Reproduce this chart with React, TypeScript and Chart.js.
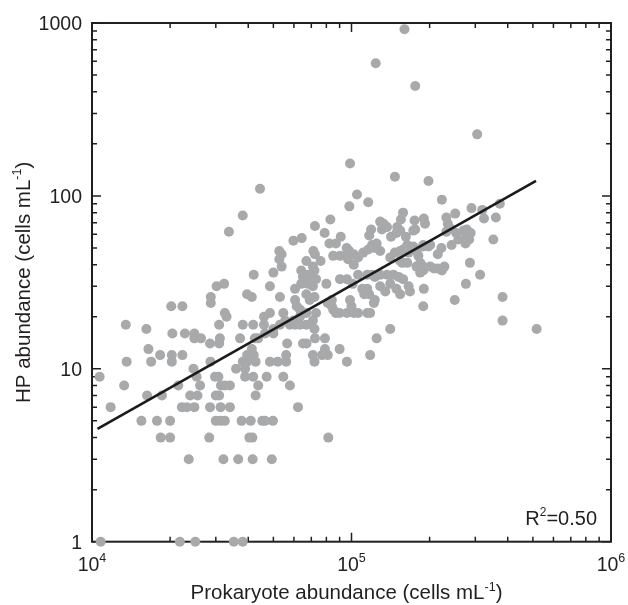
import React, { useEffect, useRef } from 'react';
import { Chart, registerables } from 'chart.js';

Chart.register(...registerables);

// [prokaryote abundance (cells mL-1), HP abundance (cells mL-1)]
const lowSamples: Array<[number, number]> = [
  [10800, 1], [21800, 1], [25000, 1], [35200, 1], [38100, 1],
  [23600, 3], [32100, 3], [36600, 3], [41600, 3], [49300, 3],
  [18400, 4], [20000, 4], [28300, 4], [40400, 4], [41500, 4], [81400, 4],
  [15500, 5], [17800, 5], [20000, 5], [30000, 5], [31300, 5], [32500, 5], [37700, 5], [40900, 5], [45300, 5], [46400, 5], [49800, 5],
  [11800, 6], [22200, 6], [23200, 6], [24800, 6], [28500, 6], [31300, 6], [34000, 6], [62200, 6],
  [16300, 7], [18600, 7], [23900, 7], [25500, 7], [30000, 7], [30900, 7], [42700, 7],
  [13300, 8], [21500, 8], [26100, 8], [31400, 8], [32500, 8], [34000, 8], [43700, 8], [57900, 8],
  [10700, 9], [25300, 9], [29800, 9], [30700, 9], [38900, 9], [41800, 9], [47100, 9], [54600, 9],
  [24600, 10], [35900, 10], [38900, 10],
];

const midSamples: Array<[number, number]> = [
  [13600, 11], [16900, 11], [20300, 11], [28600, 11], [38100, 11], [39600, 11], [42700, 11], [48500, 11], [52000, 11], [56000, 11], [72000, 11], [96000, 11],
  [18300, 12], [20300, 12], [22300, 12], [39600, 12], [42000, 12], [56000, 12], [71000, 12], [77000, 12], [81000, 12], [118000, 12],
  [16500, 13], [41300, 13], [79000, 13], [90000, 13],
  [28500, 14], [30900, 14], [56500, 14], [65000, 14], [67100, 14],
  [24800, 15], [26300, 15], [31100, 15], [37200, 15], [42400, 15], [43700, 15], [72300, 15], [79000, 15], [125000, 15],
  [20400, 16], [22800, 16], [24800, 16], [46400, 16], [50000, 16],
  [16200, 17], [50000, 17], [72000, 17], [141000, 17], [517000, 17],
  [13500, 18], [30900, 18], [38100, 18], [41800, 18], [46000, 18], [53000, 18], [57900, 18], [60600, 18], [63300, 18], [67000, 18],
  [55500, 19], [59700, 19], [71000, 19], [382000, 19],
  [33000, 20], [46000, 20], [63300, 20],
  [32500, 21], [48500, 21], [54600, 21], [64000, 21], [67000, 21], [73000, 21], [87000, 21], [90000, 21], [96000, 21], [102000, 21], [106000, 21], [115000, 21], [118000, 21],
  [63300, 22], [85000, 22],
  [20200, 23], [22300, 23], [61500, 23], [84000, 23], [100000, 23], [189000, 23],
  [28700, 24], [81000, 24], [122000, 24],
  [60600, 25], [69000, 25], [84000, 25], [98700, 25], [123000, 25], [250000, 25],
  [28700, 26], [41300, 26], [53000, 26], [72000, 26], [382000, 26],
  [39600, 27], [67000, 27], [112000, 27], [117000, 27], [154000, 27],
  [135000, 28], [168000, 28],
  [60600, 29], [110000, 29], [115000, 29], [149000, 29], [190000, 29],
  [30200, 30], [48500, 30], [71000, 30], [129000, 30], [141000, 31], [166000, 30],
  [32300, 31], [64000, 31], [68000, 31], [80000, 31], [101000, 31], [276000, 31],
];

const upperSamples: Array<[number, number]> = [
  [65000, 34], [69000, 34], [73000, 33], [90300, 33], [96000, 33],
  [42000, 35], [68000, 35], [106000, 35], [115000, 35], [120000, 35], [123000, 34], [129000, 35], [137000, 35], [145000, 35], [152000, 34], [158000, 33], [313000, 35],
  [50000, 36], [64000, 37], [72000, 37], [184000, 36], [189000, 37], [223000, 37],
  [53800, 39], [71000, 39], [178000, 39], [189000, 39], [201000, 39], [208000, 38], [215000, 38], [228000, 39], [102000, 40],
  [52700, 43], [67000, 42], [76000, 42], [97000, 43], [106000, 44], [154000, 42], [157000, 41], [164000, 41], [184000, 41], [286000, 41], [141000, 44],
  [53800, 46], [52700, 48], [71300, 48], [72300, 46], [85000, 45], [90300, 45], [96000, 46], [102000, 46], [95800, 50], [98000, 48],
  [111000, 47], [116000, 49], [123000, 50], [129000, 48], [147000, 47], [154000, 48], [158000, 49], [166000, 47], [173000, 51],
  [178000, 48], [181000, 45], [215000, 46], [222000, 50], [189000, 51], [198000, 51],
  [59700, 55], [64300, 57], [82200, 53], [87100, 53], [90900, 58], [117000, 59], [120000, 52], [125000, 53], [142000, 58], [162000, 58],
  [164000, 52], [189000, 52], [201000, 52], [243000, 52], [258000, 56], [276000, 57], [284000, 56], [352000, 56], [275000, 53],
];

const highSamples: Array<[number, number]> = [
  [33700, 62], [78800, 61], [72300, 67], [119000, 64], [131000, 64], [129000, 71], [133000, 69], [137000, 66], [149000, 61], [150000, 66],
  [154000, 63], [173000, 63], [176000, 64], [192000, 69], [232000, 62], [235000, 69], [240000, 65], [253000, 61], [278000, 64], [288000, 61], [270000, 63],
  [38100, 77], [82900, 73], [155000, 73], [158000, 80], [175000, 72], [190000, 74], [232000, 75], [98100, 87], [116000, 92], [105000, 102],
  [223000, 95], [251000, 79], [290000, 85], [319000, 83], [373000, 90], [324000, 74], [360000, 75],
  [44400, 110], [98700, 154], [147000, 129], [198000, 122], [305000, 227], [124000, 585], [176000, 432], [160000, 920],
];

// regression line end points
const fitX = [10500, 514000];
const fitY = [4.49, 122];

const xTickValues = [1e4, 1e5, 1e6];
const xTickBase = '10';
const xTickExponents = ['4', '5', '6'];
const yTickValues = [1, 10, 100, 1000];
const yTickLabels = ['1', '10', '100', '1000'];
const xAxisTitle = 'Prokaryote abundance (cells mL';
const yAxisTitle = 'HP abundance (cells mL';
const unitExponent = '-1';
const r2Parts = ['R', '2', '=0.50'];

const FONT = '"Liberation Sans", Arial, Helvetica, sans-serif';
const AXIS = '#231f20';
const DOT = '#a8a9ab';

type Part = { t: string; sup?: boolean };

function drawRich(
  ctx: CanvasRenderingContext2D,
  parts: Part[],
  x: number,
  y: number,
  align: 'left' | 'center' | 'right',
  baseSize: number,
  supSize: number,
  rise: number
) {
  const widths = parts.map((p) => {
    ctx.font = `${p.sup ? supSize : baseSize}px ${FONT}`;
    return ctx.measureText(p.t).width;
  });
  const total = widths.reduce((a, b) => a + b, 0);
  let cx = align === 'center' ? x - total / 2 : align === 'right' ? x - total : x;
  ctx.textAlign = 'left';
  ctx.textBaseline = 'alphabetic';
  parts.forEach((p, i) => {
    ctx.font = `${p.sup ? supSize : baseSize}px ${FONT}`;
    ctx.fillText(p.t, cx, p.sup ? y - rise : y);
    cx += widths[i];
  });
}

const framePlugin = {
  id: 'frame',
  beforeDatasetsDraw(chart: any) {
    const { ctx, chartArea: a, scales } = chart;
    const xs = scales.x;
    const ys = scales.y;
    ctx.save();
    ctx.strokeStyle = AXIS;
    ctx.lineWidth = 2;
    ctx.strokeRect(a.left, a.top, a.right - a.left, a.bottom - a.top);
    ctx.lineWidth = 1.5;
    const major = 9;
    const minor = 5;
    for (let d = 0; d < xTickValues.length; d++) {
      for (let m = 1; m <= 9; m++) {
        const v = xTickValues[d] * m;
        if (v > xTickValues[xTickValues.length - 1]) break;
        const px = xs.getPixelForValue(v);
        const len = m === 1 ? major : minor;
        ctx.beginPath();
        ctx.moveTo(px, a.bottom);
        ctx.lineTo(px, a.bottom - len);
        ctx.moveTo(px, a.top);
        ctx.lineTo(px, a.top + len);
        ctx.stroke();
      }
    }
    for (let d = 0; d < yTickValues.length; d++) {
      for (let m = 1; m <= 9; m++) {
        const v = yTickValues[d] * m;
        if (v > yTickValues[yTickValues.length - 1]) break;
        const py = ys.getPixelForValue(v);
        const len = m === 1 ? major : minor;
        ctx.beginPath();
        ctx.moveTo(a.left, py);
        ctx.lineTo(a.left + len, py);
        ctx.moveTo(a.right, py);
        ctx.lineTo(a.right - len, py);
        ctx.stroke();
      }
    }
    ctx.restore();
  },
  afterDraw(chart: any) {
    const { ctx, chartArea: a, scales } = chart;
    const xs = scales.x;
    const ys = scales.y;
    ctx.save();
    ctx.fillStyle = '#231f20';
    ctx.font = `19.5px ${FONT}`;
    ctx.textAlign = 'right';
    ctx.textBaseline = 'alphabetic';
    yTickValues.forEach((v, i) => {
      const py = ys.getPixelForValue(v);
      ctx.fillText(yTickLabels[i], a.left - 10, py + 7);
    });
    xTickValues.forEach((v, i) => {
      const px = xs.getPixelForValue(v);
      drawRich(ctx, [{ t: xTickBase }, { t: xTickExponents[i], sup: true }], px, a.bottom + 29, 'center', 19.5, 12.5, 8.5);
    });
    drawRich(
      ctx,
      [{ t: xAxisTitle }, { t: unitExponent, sup: true }, { t: ')' }],
      (a.left + a.right) / 2 - 5,
      a.bottom + 57.5,
      'center',
      20.5,
      12.5,
      8.5
    );
    ctx.save();
    ctx.translate(a.left - 62.5, (a.top + a.bottom) / 2);
    ctx.rotate(-Math.PI / 2);
    drawRich(ctx, [{ t: yAxisTitle }, { t: unitExponent, sup: true }, { t: ')' }], 0, 0, 'center', 20.5, 12.5, 8.5);
    ctx.restore();
    drawRich(
      ctx,
      [{ t: r2Parts[0] }, { t: r2Parts[1], sup: true }, { t: r2Parts[2] }],
      a.right - 14,
      a.bottom - 16.5,
      'right',
      20,
      12,
      9
    );
    ctx.restore();
  },
};

export default function App() {
  const canvasRef = useRef<HTMLCanvasElement | null>(null);

  useEffect(() => {
    const canvas = canvasRef.current;
    if (!canvas) return;
    const samples = [...lowSamples, ...midSamples, ...upperSamples, ...highSamples];
    const chart = new Chart(canvas, {
      type: 'scatter',
      data: {
        datasets: [
          {
            label: 'fit',
            data: fitX.map((x, i) => ({ x, y: fitY[i] })),
            showLine: true,
            borderColor: '#1b1b1b',
            borderWidth: 2.6,
            pointRadius: 0,
            fill: false,
            order: 0,
          } as any,
          {
            label: 'samples',
            data: samples.map(([x, y]) => ({ x, y })),
            backgroundColor: DOT,
            borderWidth: 0,
            pointRadius: 5,
            pointHoverRadius: 5,
            clip: false,
            order: 1,
          } as any,
        ],
      },
      options: {
        responsive: false,
        maintainAspectRatio: false,
        animation: false,
        devicePixelRatio: 1,
        layout: { padding: { left: 92, right: 17, top: 23, bottom: 63.3 } },
        scales: {
          x: { type: 'logarithmic', min: 1e4, max: 1e6, display: false },
          y: { type: 'logarithmic', min: 1, max: 1000, display: false },
        },
        plugins: {
          legend: { display: false },
          tooltip: { enabled: false },
        },
        events: [],
      },
      plugins: [framePlugin],
    });
    return () => chart.destroy();
  }, []);

  return (
    <div style={{ position: 'absolute', left: 0, top: 0, width: 628, height: 605, background: '#fff' }}>
      <canvas ref={canvasRef} width={628} height={605} style={{ display: 'block' }} />
    </div>
  );
}
